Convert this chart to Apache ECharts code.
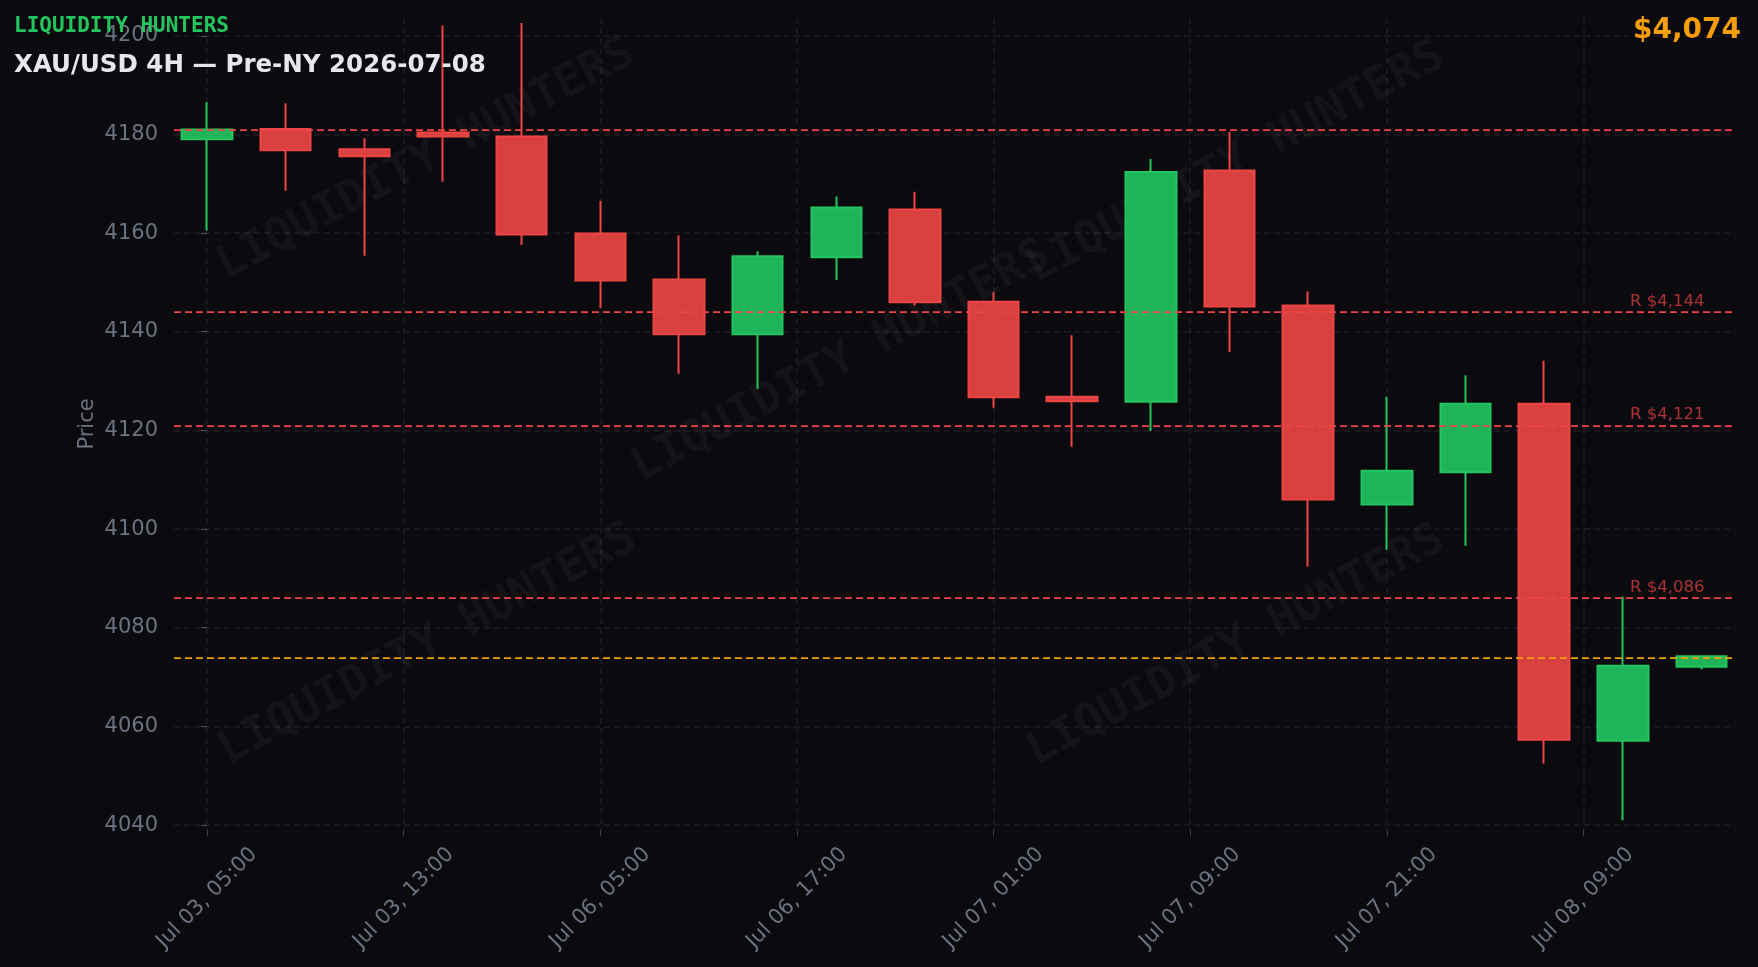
<!DOCTYPE html>
<html>
<head>
<meta charset="utf-8">
<title>XAU/USD 4H</title>
<script src="https://cdn.jsdelivr.net/npm/echarts@6/dist/echarts.min.js"></script>
<style>
html,body{margin:0;padding:0;background:#0b0b0f;}
#chart{width:1758px;height:967px;}
</style>
</head>
<body>
<div id="chart"></div>
<script>
// candle data, one entry per 4h bar
var candleIdx = [0,1,2,3,4,5,6,7,8,9,10,11,12,13,14,15,16,17,18,19];
var opens  = [4179.0,4181.1,4177.0,4180.4,4179.6,4159.9,4150.6,4139.5,4155.1,4164.8,4146.1,4126.8,4125.8,4172.7,4145.3,4105.0,4111.5,4125.4,4057.1,4072.1];
var closes = [4181.0,4176.8,4175.6,4179.6,4159.7,4150.4,4139.5,4155.3,4165.2,4146.0,4126.7,4125.9,4172.4,4145.1,4106.0,4111.8,4125.4,4057.3,4072.3,4074.2];
var lows   = [4160.5,4168.6,4155.4,4170.4,4157.6,4144.8,4131.5,4128.4,4150.5,4145.3,4124.6,4116.7,4119.9,4135.9,4092.4,4095.8,4096.6,4052.5,4041.0,4071.6];
var highs  = [4186.5,4186.3,4179.2,4202.1,4202.6,4166.5,4159.5,4156.3,4167.4,4168.4,4148.0,4139.3,4175.0,4180.5,4148.2,4126.8,4131.2,4134.1,4086.3,4074.3];

// x axis ticks (candle positions) and labels
var tickPos = [0, 2.5, 5, 7.5, 10, 12.5, 15, 17.5];
var tickLabels = ['Jul 03, 05:00','Jul 03, 13:00','Jul 06, 05:00','Jul 06, 17:00','Jul 07, 01:00','Jul 07, 09:00','Jul 07, 21:00','Jul 08, 09:00'];
var priceTicks = [4040,4060,4080,4100,4120,4140,4160,4180,4200];

// levels
var resistLevels = [4181, 4144, 4121, 4086];
var resistLabels = ['', 'R $4,144', 'R $4,121', 'R $4,086'];
var lastPrice = 4074;

var myChart = echarts.init(document.getElementById('chart'));

var candles = candleIdx.map(function(i){
    return [i, opens[i], closes[i], lows[i], highs[i]];
});

var gridLine = {
    show:true,
    lineStyle:{color:'#1d1e26', width:1.5, type:[6,4]}
};

// faint watermark text
var wmPos = [[426,160],[841,362],[1236,163],[428,645],[1236,646]];
var watermarks = wmPos.map(function(p){
    return {
        type:'text',
        x:p[0], y:p[1],
        rotation: 28 * Math.PI / 180,
        z:1,
        silent:true,
        style:{
            text:'LIQUIDITY HUNTERS',
            fill:'rgba(255,255,255,0.04)',
            font:'bold 45.5px "DejaVu Sans Mono"',
            align:'center',
            verticalAlign:'middle'
        }
    };
});

var lineData = resistLevels.map(function(v, i){
    return {
        yAxis:v,
        lineStyle:{color:'#ef4444', type:[7,4], width:1.75},
        label:{
            show: resistLabels[i] !== '',
            formatter: resistLabels[i],
            position:'insideEndTop',
            distance:[30,2],
            color:'rgba(239,68,68,0.7)',
            fontSize:16.5
        }
    };
});
lineData.push({
    yAxis:lastPrice,
    lineStyle:{color:'#f59e0b', type:[7,4], width:1.75},
    label:{show:false}
});

var option = {
    backgroundColor:'#0b0b0f',
    animation:false,
    textStyle:{fontFamily:'DejaVu Sans'},
    title:[
        {
            text:'LIQUIDITY HUNTERS', left:9, top:11,
            textStyle:{color:'#22c55e', fontFamily:'DejaVu Sans Mono', fontWeight:'bold', fontSize:21}
        },
        {
            text:'XAU/USD 4H — Pre-NY 2026-07-08', left:9, top:48,
            textStyle:{color:'#e5e7eb', fontFamily:'DejaVu Sans', fontWeight:'bold', fontSize:24.5}
        },
        {
            text:'$' + lastPrice.toLocaleString('en-US'), right:12, top:12,
            textStyle:{color:'#f59e0b', fontFamily:'DejaVu Sans', fontWeight:'bold', fontSize:28}
        }
    ],
    grid:{left:174, right:23.5, top:18, bottom:137},
    xAxis:{
        type:'value',
        min:-0.42,
        max:19.42,
        axisLine:{show:false},
        axisTick:{show:true, length:6, customValues:tickPos, lineStyle:{color:'#3b3e48'}},
        axisLabel:{
            customValues:tickPos,
            rotate:45,
            align:'center',
            verticalAlign:'middle',
            margin:68,
            color:'#6b7280',
            fontSize:21,
            formatter:function(v){ return tickLabels[tickPos.indexOf(v)]; }
        },
        splitLine:gridLine
    },
    yAxis:{
        type:'value',
        min:4039,
        max:4203.6,
        name:'Price',
        nameLocation:'middle',
        nameGap:76,
        nameMoveOverlap:false,
        nameTextStyle:{color:'#6b7280', fontSize:21},
        axisLine:{show:false},
        axisTick:{show:true, length:6, customValues:priceTicks, lineStyle:{color:'#4b5563'}},
        axisLabel:{
            customValues:priceTicks,
            margin:16,
            color:'#6b7280',
            fontSize:21,
            formatter:function(v){ return String(v); }
        },
        splitLine:gridLine
    },
    graphic:watermarks,
    series:[{
        type:'candlestick',
        data:candles,
        barWidth:51,
        itemStyle:{
            color:'#1fb45a',
            color0:'#d94040',
            borderColor:'#22c55e',
            borderColor0:'#ef4444',
            borderWidth:2
        },
        markLine:{
            symbol:['none','none'],
            silent:true,
            label:{show:false},
            data:lineData
        }
    }]
};

myChart.setOption(option);
</script>
</body>
</html>
